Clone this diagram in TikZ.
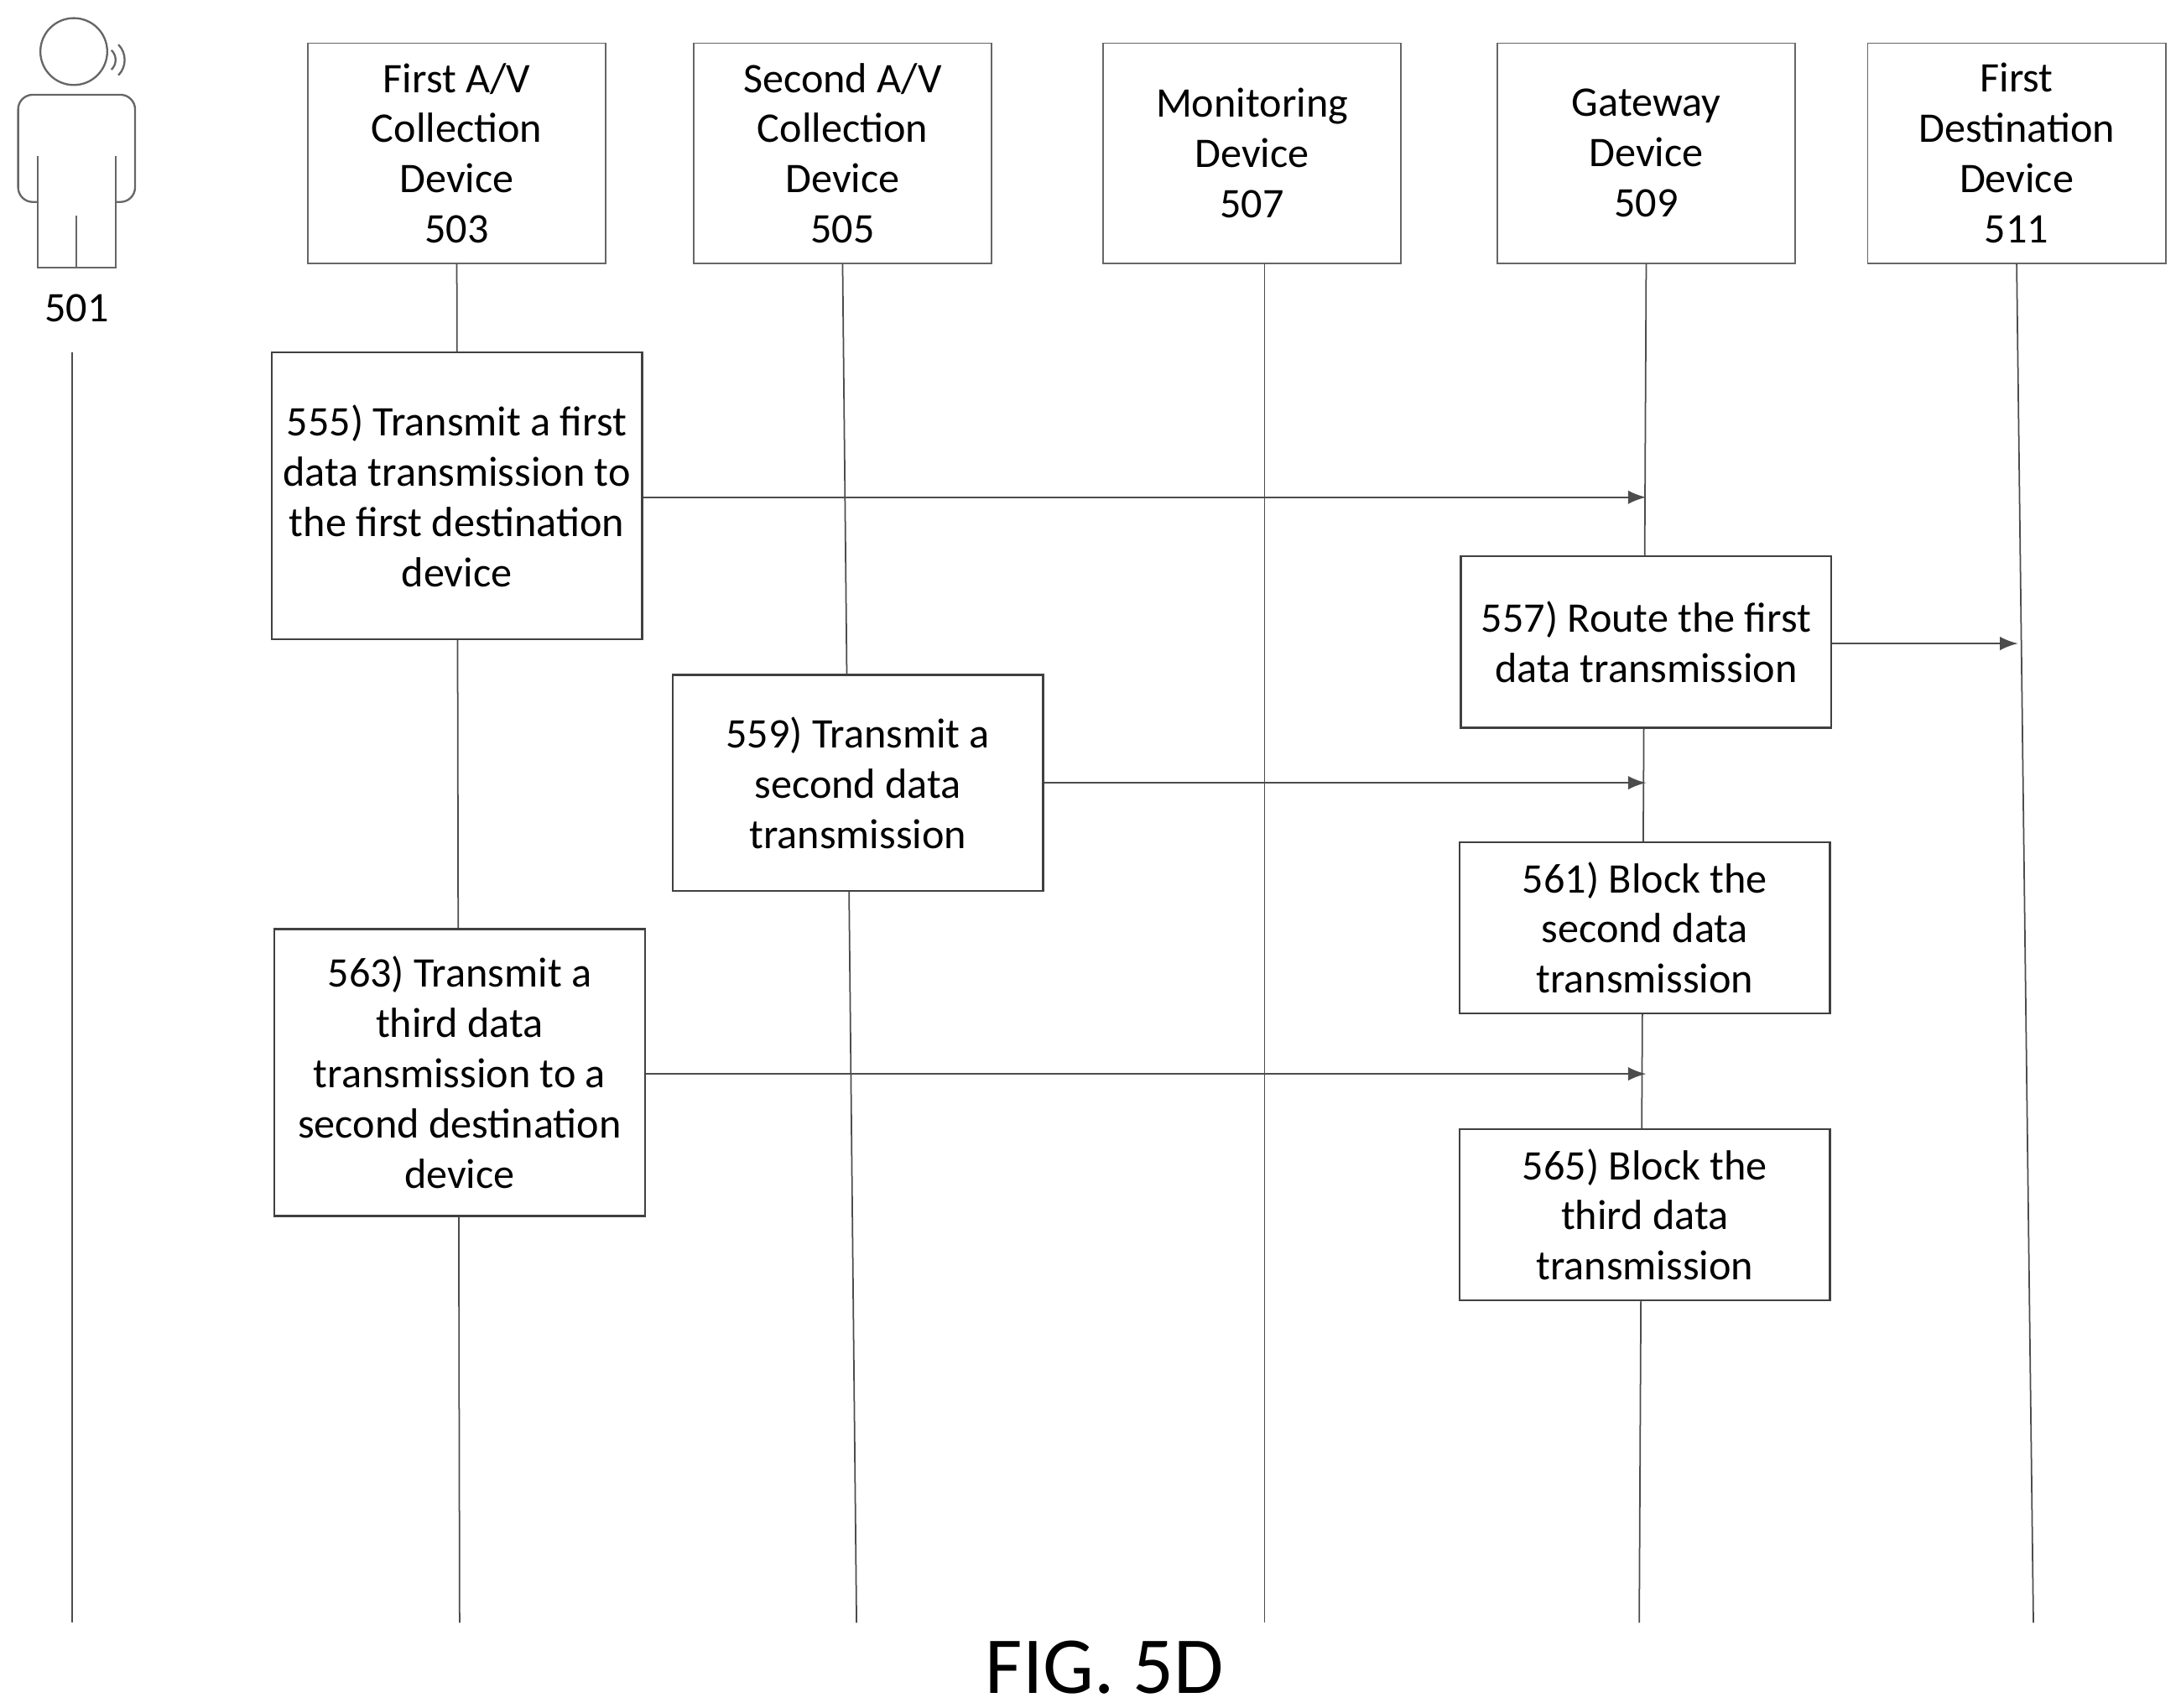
\documentclass[tikz,border=0pt]{standalone}
\usepackage{fontspec}
\setmainfont{Carlito}
\begin{document}
\begin{tikzpicture}[x=0.01cm,y=-0.01cm,
 life/.style={draw=black!70,line width=0.3pt},
 hdr/.style={draw=black!60,line width=0.3pt,fill=white,minimum width=214*0.01cm,minimum height=158*0.01cm,align=center,inner sep=0pt,font=\fontsize{8.6}{10.25}\selectfont},
 box/.style={draw=black!75,line width=0.4pt,fill=white,minimum width=266*0.01cm,align=center,inner sep=0pt,font=\fontsize{8.6}{10.25}\selectfont},
 msg/.style={draw=black!70,line width=0.3pt,-latex}]
\useasboundingbox (0,0) rectangle (1566,1226);
% lifelines
\coordinate (l1t) at (52,253); \coordinate (l1b) at (52,1165);
\draw[life] (l1t)--(l1b);
\coordinate (l3b) at (330,1165); \coordinate (l5b) at (615,1165);
\coordinate (l7b) at (908,1165); \coordinate (l9b) at (1177,1165); \coordinate (l11b) at (1460,1165);
\node[hdr] (h503) at (328,110) {First A/V\\Collection\\Device\\503};
\node[hdr] (h505) at (605,110) {Second A/V\\Collection\\Device\\505};
\node[hdr] (h507) at (899,110) {Monitoring\\Device\\507};
\node[hdr] (h509) at (1182,110) {Gateway\\Device\\509};
\node[hdr] (h511) at (1448,110) {First\\Destination\\Device\\511};
\draw[life] (h503.south)--(l3b);
\draw[life] (h505.south)--(l5b);
\draw[life] (908,189)--(l7b);
\draw[life] (h509.south)--(l9b);
\draw[life] (h511.south)--(l11b);
% person
\node[draw=black!60,circle,minimum size=48*0.01cm,inner sep=0pt] (head) at (53,37) {};
\draw[black!60,line width=0.4pt] (80,36) .. controls (84,40) and (84,46) .. (80,50);
\draw[black!60,line width=0.4pt] (85,32) .. controls (91,38) and (91,48) .. (85,54);
\draw[black!60,line width=0.4pt,rounded corners=3pt] (27,145)--(13,145)--(13,68)--(97,68)--(97,145)--(83,145);
\draw[black!60,line width=0.4pt] (27,112)--(27,192)--(83,192)--(83,112);
\draw[black!60,line width=0.4pt] (55,155)--(55,192);
\node[font=\fontsize{8.6}{10.25}\selectfont] (p501) at (55,221) {501};
% boxes
\node[box,minimum height=206*0.01cm] (b555) at (328,356) {555) Transmit a first\\data transmission to\\the first destination\\device};
\node[box,minimum height=123*0.01cm] (b557) at (1182,461) {557) Route the first\\data transmission};
\node[box,minimum height=155*0.01cm] (b559) at (616,562) {559) Transmit a\\second data\\transmission};
\node[box,minimum height=123*0.01cm] (b561) at (1181,666) {561) Block the\\second data\\transmission};
\node[box,minimum height=206*0.01cm] (b563) at (330,770) {563) Transmit a\\third data\\transmission to a\\second destination\\device};
\node[box,minimum height=123*0.01cm] (b565) at (1181,872) {565) Block the\\third data\\transmission};
\coordinate (a1) at (1182,357); \coordinate (a2) at (1449,462);
\coordinate (a3) at (1182,562); \coordinate (a4) at (1182,771);
\draw[msg] (b555.east|-a1)--(a1);
\draw[msg] (b557.east|-a2)--(a2);
\draw[msg] (b559.east|-a3)--(a3);
\draw[msg] (b563.east|-a4)--(a4);
\node[font=\fontsize{16.5}{18}\selectfont] (fig) at (793,1197) {FIG. 5D};
\end{tikzpicture}
\end{document}
